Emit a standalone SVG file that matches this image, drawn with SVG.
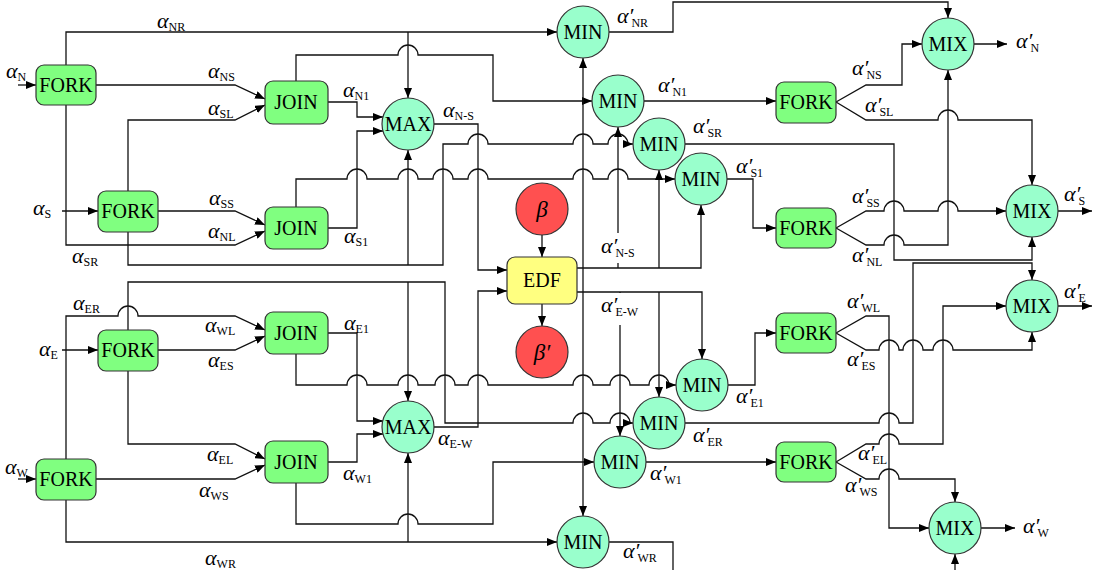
<svg xmlns="http://www.w3.org/2000/svg" width="1100" height="570" viewBox="0 0 1100 570">
<style>
.r{fill:#80FF80;stroke:#333;stroke-width:1.2}
.c{fill:#99FFCC;stroke:#333;stroke-width:1.2}
.e{fill:#FFFF80;stroke:#333;stroke-width:1.2}
.b{fill:#FF5050;stroke:#333;stroke-width:1.2}
.t{font-family:'Liberation Serif','Times New Roman',serif;font-size:20px;text-anchor:middle;fill:#000}
.bt{font-family:'Liberation Serif','Times New Roman',serif;font-size:23px;font-style:italic;text-anchor:middle;fill:#000}
#connectors path{fill:none;stroke:#111;stroke-width:1.3}
#connectors path.a{marker-end:url(#ar)}
.l{font-family:'Liberation Serif','Times New Roman',serif;font-size:22px;font-style:italic;fill:#000}
.s{font-size:12px;font-style:normal}
</style>
<defs>
<marker id="ar" markerUnits="userSpaceOnUse" markerWidth="10" markerHeight="8" refX="10" refY="4" orient="auto">
<path d="M0,0 L10,4 L0,8 z" fill="#000"/>
</marker>
</defs>
<rect width="1100" height="570" fill="#fff"/>
<g id="connectors">
<path class="a" d="M18 85 H36"/>
<path class="a" d="M66 65 V32 H557"/>
<path class="a" d="M408 32 V98"/>
<path class="a" d="M96 85 H235 L265 99"/>
<path class="a" d="M128 191 V120 H235 L265 105"/>
<path class="a" d="M66 105 V245 H235 L265 231"/>
<path class="a" d="M62 211 H98"/>
<path class="a" d="M158 211 H235 L265 225"/>
<path class="a" d="M128 232 V265 H443 V144 H468 A10 10 0 0 1 488 144 H573 A10 10 0 0 1 593 144 H608 A10 10 0 0 1 628 144 H633"/>
<path class="a" d="M408 265 V150"/>
<path class="a" d="M328 102 H357 V117 H383"/>
<path class="a" d="M328 228 H357 V131 H383"/>
<path class="a" d="M296 81 V55 H398 A10 10 0 0 1 418 55 H493 V101 H592"/>
<path class="a" d="M296 207 V179 H347 A10 10 0 0 1 367 179 H398 A10 10 0 0 1 418 179 H433 A10 10 0 0 1 453 179 H468 A10 10 0 0 1 488 179 H573 A10 10 0 0 1 593 179 H608 A10 10 0 0 1 628 179 H675"/>
<path class="a" d="M433 124 H478 V270 H507"/>
<path class="a" d="M577 268 H701 V205"/>
<path class="a" d="M583 268 V58"/>
<path class="a" d="M618 268 V127"/>
<path class="a" d="M659 268 V170"/>
<path class="a" d="M542 235 V257"/>
<path class="a" d="M542 304 V326"/>
<path class="a" d="M62 350 H98"/>
<path class="a" d="M18 479 H36"/>
<path class="a" d="M66 459 V316 H118 A10 10 0 0 1 138 316 H235 L265 330"/>
<path class="a" d="M158 350 H235 L265 336"/>
<path class="a" d="M128 371 V444 H235 L265 459"/>
<path class="a" d="M96 479 H235 L265 465"/>
<path class="a" d="M128 330 V282 H445 V423 H573 A10 10 0 0 1 593 423 H610 A10 10 0 0 1 630 423 H633"/>
<path class="a" d="M408 282 V401"/>
<path class="a" d="M66 500 V542 H557"/>
<path class="a" d="M408 542 V453"/>
<path class="a" d="M328 333 H357 V421 H383"/>
<path class="a" d="M328 462 H357 V434 H383"/>
<path class="a" d="M296 354 V385 H347 A10 10 0 0 1 367 385 H398 A10 10 0 0 1 418 385 H435 A10 10 0 0 1 455 385 H468 A10 10 0 0 1 488 385 H573 A10 10 0 0 1 593 385 H610 A10 10 0 0 1 630 385 H649 A10 10 0 0 1 669 385 H676"/>
<path class="a" d="M296 483 V524 H398 A10 10 0 0 1 418 524 H493 V462 H594"/>
<path class="a" d="M433 427 H478 V291 H507"/>
<path class="a" d="M577 292 H702 V359"/>
<path class="a" d="M583 292 V516"/>
<path d="M583 268 V292"/>
<path class="a" d="M620 292 V436"/>
<path class="a" d="M659 292 V397"/>
<path class="a" d="M609 32 H673 V2 H948 V18"/>
<path class="a" d="M644 101 H776"/>
<path class="a" d="M685 144 H894 V260 H1032 V237"/>
<path class="a" d="M727 179 H753 V228 H776"/>
<path class="a" d="M836 102 L866 85 H902 V44 H922"/>
<path class="a" d="M836 102 L866 120 H938 A10 10 0 0 1 958 120 H1032 V185"/>
<path class="a" d="M836 228 L866 211 H884 A10 10 0 0 1 904 211 H938 A10 10 0 0 1 958 211 H1006"/>
<path class="a" d="M836 228 L866 245 H884 A10 10 0 0 1 904 245 H948 V70"/>
<path class="a" d="M974 44 H1007"/>
<path class="a" d="M1058 211 H1092"/>
<path class="a" d="M1058 306 H1092"/>
<path class="a" d="M981 528 H1015"/>
<path class="a" d="M728 385 H755 V333 H776"/>
<path class="a" d="M836 333 L866 316 H889 V528 H929"/>
<path class="a" d="M836 333 L866 350 H879 A10 10 0 0 1 899 350 H903 A10 10 0 0 1 923 350 H933 A10 10 0 0 1 953 350 H1032 V332"/>
<path class="a" d="M685 423 H879 A10 10 0 0 1 899 423 H913 V263 H1032 V280"/>
<path class="a" d="M646 462 H776"/>
<path class="a" d="M836 462 L866 444 H879 A10 10 0 0 1 899 444 H943 V306 H1006"/>
<path class="a" d="M836 462 L866 479 H879 A10 10 0 0 1 899 479 H955 V502"/>
<path d="M609 542 H673 V572"/>
<path class="a" d="M955 572 V554"/>
</g>
<g id="labels">
<text class="l" x="6" y="78">α<tspan class="s" dy="3">N</tspan></text>
<text class="l" x="157" y="28">α<tspan class="s" dy="3">NR</tspan></text>
<text class="l" x="208" y="78">α<tspan class="s" dy="3">NS</tspan></text>
<text class="l" x="208" y="115">α<tspan class="s" dy="3">SL</tspan></text>
<text class="l" x="343" y="97">α<tspan class="s" dy="3">N1</tspan></text>
<text class="l" x="443" y="117">α<tspan class="s" dy="3">N-S</tspan></text>
<text class="l" x="344" y="243">α<tspan class="s" dy="3">S1</tspan></text>
<text class="l" x="209" y="205">α<tspan class="s" dy="3">SS</tspan></text>
<text class="l" x="208" y="238">α<tspan class="s" dy="3">NL</tspan></text>
<text class="l" x="33" y="215">α<tspan class="s" dy="3">S</tspan></text>
<text class="l" x="72" y="263">α<tspan class="s" dy="3">SR</tspan></text>
<text class="l" x="73" y="310">α<tspan class="s" dy="3">ER</tspan></text>
<text class="l" x="205" y="332">α<tspan class="s" dy="3">WL</tspan></text>
<text class="l" x="39" y="356">α<tspan class="s" dy="3">E</tspan></text>
<text class="l" x="208" y="367">α<tspan class="s" dy="3">ES</tspan></text>
<text class="l" x="344" y="330">α<tspan class="s" dy="3">E1</tspan></text>
<text class="l" x="207" y="461">α<tspan class="s" dy="3">EL</tspan></text>
<text class="l" x="199" y="497">α<tspan class="s" dy="3">WS</tspan></text>
<text class="l" x="5" y="474">α<tspan class="s" dy="3">W</tspan></text>
<text class="l" x="205" y="565">α<tspan class="s" dy="3">WR</tspan></text>
<text class="l" x="343" y="480">α<tspan class="s" dy="3">W1</tspan></text>
<text class="l" x="438" y="445">α<tspan class="s" dy="3">E-W</tspan></text>
<text class="l" x="617" y="23">α′<tspan class="s" dx="-2" dy="4">NR</tspan></text>
<text class="l" x="658" y="92">α′<tspan class="s" dx="-2" dy="4">N1</tspan></text>
<text class="l" x="693" y="133">α′<tspan class="s" dx="-2" dy="4">SR</tspan></text>
<text class="l" x="736" y="173">α′<tspan class="s" dx="-2" dy="4">S1</tspan></text>
<rect x="598" y="233" width="44" height="30" fill="#fff"/>
<text class="l" x="601" y="253">α′<tspan class="s" dx="-2" dy="4">N-S</tspan></text>
<rect x="598" y="293" width="44" height="32" fill="#fff"/>
<text class="l" x="601" y="312">α′<tspan class="s" dx="-2" dy="4">E-W</tspan></text>
<text class="l" x="852" y="75">α′<tspan class="s" dx="-2" dy="4">NS</tspan></text>
<text class="l" x="865" y="112">α′<tspan class="s" dx="-2" dy="4">SL</tspan></text>
<text class="l" x="1016" y="48">α′<tspan class="s" dx="-2" dy="4">N</tspan></text>
<text class="l" x="852" y="203">α′<tspan class="s" dx="-2" dy="4">SS</tspan></text>
<text class="l" x="852" y="262">α′<tspan class="s" dx="-2" dy="4">NL</tspan></text>
<text class="l" x="1064" y="201">α′<tspan class="s" dx="-2" dy="4">S</tspan></text>
<text class="l" x="847" y="308">α′<tspan class="s" dx="-2" dy="4">WL</tspan></text>
<text class="l" x="847" y="366">α′<tspan class="s" dx="-2" dy="4">ES</tspan></text>
<text class="l" x="1064" y="298">α′<tspan class="s" dx="-2" dy="4">E</tspan></text>
<text class="l" x="736" y="403">α′<tspan class="s" dx="-2" dy="4">E1</tspan></text>
<text class="l" x="693" y="442">α′<tspan class="s" dx="-2" dy="4">ER</tspan></text>
<text class="l" x="650" y="480">α′<tspan class="s" dx="-2" dy="4">W1</tspan></text>
<text class="l" x="858" y="460">α′<tspan class="s" dx="-2" dy="4">EL</tspan></text>
<text class="l" x="845" y="492">α′<tspan class="s" dx="-2" dy="4">WS</tspan></text>
<text class="l" x="1023" y="533">α′<tspan class="s" dx="-2" dy="4">W</tspan></text>
<text class="l" x="623" y="558">α′<tspan class="s" dx="-2" dy="4">WR</tspan></text>
</g>
<g id="fork_n"><rect class="r" x="36" y="65" width="60" height="40" rx="8"/><text class="t" x="66" y="92">FORK</text></g>
<g id="fork_s"><rect class="r" x="98" y="191" width="60" height="41" rx="8"/><text class="t" x="128" y="218">FORK</text></g>
<g id="fork_e"><rect class="r" x="98" y="330" width="60" height="41" rx="8"/><text class="t" x="128" y="357">FORK</text></g>
<g id="fork_w"><rect class="r" x="36" y="459" width="60" height="41" rx="8"/><text class="t" x="66" y="486">FORK</text></g>
<g id="join_n"><rect class="r" x="265" y="81" width="63" height="43" rx="8"/><text class="t" x="296" y="109">JOIN</text></g>
<g id="join_s"><rect class="r" x="265" y="207" width="63" height="42" rx="8"/><text class="t" x="296" y="235">JOIN</text></g>
<g id="join_e"><rect class="r" x="265" y="312" width="63" height="42" rx="8"/><text class="t" x="296" y="340">JOIN</text></g>
<g id="join_w"><rect class="r" x="265" y="441" width="63" height="42" rx="8"/><text class="t" x="296" y="469">JOIN</text></g>
<g id="max_ns"><circle class="c" cx="408" cy="124" r="26"/><text class="t" x="408" y="131">MAX</text></g>
<g id="max_ew"><circle class="c" cx="408" cy="427" r="26"/><text class="t" x="408" y="434">MAX</text></g>
<g id="edf"><rect class="e" x="507" y="257" width="70" height="47" rx="8"/><text class="t" x="542" y="287">EDF</text></g>
<g id="beta"><circle class="b" cx="542" cy="209" r="26"/><text class="bt" x="542" y="217">β</text></g>
<g id="beta2"><circle class="b" cx="542" cy="352" r="26"/><text class="bt" x="542" y="360">β′</text></g>
<g id="min_nr"><circle class="c" cx="583" cy="32" r="26"/><text class="t" x="583" y="39">MIN</text></g>
<g id="min_n1"><circle class="c" cx="618" cy="101" r="26"/><text class="t" x="618" y="108">MIN</text></g>
<g id="min_sr"><circle class="c" cx="659" cy="144" r="26"/><text class="t" x="659" y="151">MIN</text></g>
<g id="min_s1"><circle class="c" cx="701" cy="179" r="26"/><text class="t" x="701" y="186">MIN</text></g>
<g id="min_e1"><circle class="c" cx="702" cy="385" r="26"/><text class="t" x="702" y="392">MIN</text></g>
<g id="min_er"><circle class="c" cx="659" cy="423" r="26"/><text class="t" x="659" y="430">MIN</text></g>
<g id="min_w1"><circle class="c" cx="620" cy="462" r="26"/><text class="t" x="620" y="469">MIN</text></g>
<g id="min_wr"><circle class="c" cx="583" cy="542" r="26"/><text class="t" x="583" y="549">MIN</text></g>
<g id="fork_n2"><rect class="r" x="776" y="82" width="60" height="41" rx="8"/><text class="t" x="806" y="109">FORK</text></g>
<g id="fork_s2"><rect class="r" x="776" y="208" width="60" height="40" rx="8"/><text class="t" x="806" y="235">FORK</text></g>
<g id="fork_e2"><rect class="r" x="776" y="313" width="60" height="40" rx="8"/><text class="t" x="806" y="340">FORK</text></g>
<g id="fork_w2"><rect class="r" x="776" y="442" width="60" height="40" rx="8"/><text class="t" x="806" y="469">FORK</text></g>
<g id="mix_n"><circle class="c" cx="948" cy="44" r="26"/><text class="t" x="948" y="51">MIX</text></g>
<g id="mix_s"><circle class="c" cx="1032" cy="211" r="26"/><text class="t" x="1032" y="218">MIX</text></g>
<g id="mix_e"><circle class="c" cx="1032" cy="306" r="26"/><text class="t" x="1032" y="313">MIX</text></g>
<g id="mix_w"><circle class="c" cx="955" cy="528" r="26"/><text class="t" x="955" y="535">MIX</text></g>
</svg>
